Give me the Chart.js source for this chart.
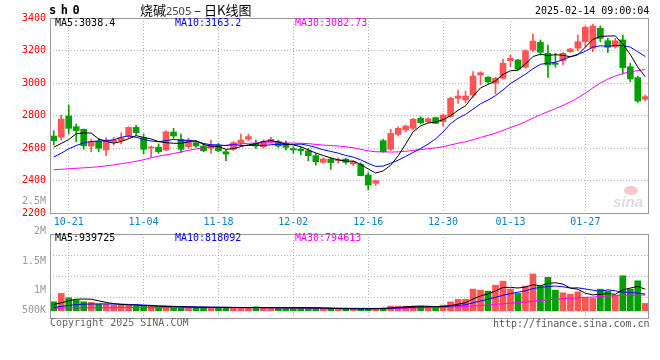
<!DOCTYPE html>
<html>
<head>
<meta charset="utf-8">
<script src="https://cdn.jsdelivr.net/npm/chart.js@4/dist/chart.umd.min.js"></script>
<style>
body { margin: 0; background: #fff; width: 660px; height: 360px; position: relative; overflow: hidden; }
canvas { position: absolute; left: 0; }
#price { top: 0; }
#vol { top: 195px; }
.t { position: absolute; white-space: pre; font: 10px/12px "DejaVu Sans Mono", monospace; }
</style>
</head>
<body>
<canvas id="price" width="660" height="230"></canvas>
<canvas id="vol" width="660" height="165"></canvas>

<div class="t" style="left:49px;top:4px;font-weight:bold;font-size:12px;letter-spacing:4.5px;">sh0</div>
<div class="t" style="left:140px;top:2px;font:13px/16px 'Noto Sans CJK SC';">烧碱<span style="font:11px 'Noto Sans';color:#444">2505</span> – 日K线图</div>
<div class="t" style="left:535px;top:5px;">2025-02-14 09:00:04</div>
<div class="t" id="pma5" style="left:55px;top:17px;color:#000"></div>
<div class="t" id="pma10" style="left:175px;top:17px;color:#00f"></div>
<div class="t" id="pma30" style="left:295px;top:17px;color:#f0f"></div>
<div class="t" id="vma5" style="left:55px;top:232px;color:#000"></div>
<div class="t" id="vma10" style="left:175px;top:232px;color:#00f"></div>
<div class="t" id="vma30" style="left:295px;top:232px;color:#f0f"></div>
<div class="t" style="left:50px;top:317px;color:#666">Copyright 2025 SINA.COM</div>
<div class="t" style="left:493px;top:318px;color:#555">http://finance.sina.com.cn</div>
<div style="position:absolute;left:624px;top:186px;width:14px;height:9px;border-radius:50%;background:#f3c9c9;"></div>
<div class="t" style="left:613px;top:194px;font:italic bold 15px/15px 'Liberation Sans';color:#dcdcdc;">sina</div>

<script>
// 日期 (80 根K线)
const dates = ['10-17','10-18','10-21','10-22','10-23','10-24','10-25','10-28','10-29','10-30',
  '10-31','11-01','11-04','11-05','11-06','11-07','11-08','11-11','11-12','11-13',
  '11-14','11-15','11-18','11-19','11-20','11-21','11-22','11-25','11-26','11-27',
  '11-28','11-29','12-02','12-03','12-04','12-05','12-06','12-09','12-10','12-11',
  '12-12','12-13','12-16','12-17','12-18','12-19','12-20','12-23','12-24','12-25',
  '12-26','12-27','12-30','12-31','01-02','01-03','01-06','01-07','01-08','01-09',
  '01-10','01-13','01-14','01-15','01-16','01-17','01-20','01-21','01-22','01-23',
  '01-24','01-27','02-05','02-06','02-07','02-10','02-11','02-12','02-13','02-14'];
const dateTicks = ['10-21','11-04','11-18','12-02','12-16','12-30','01-13','01-27'];

const open = [2674,2666,2797,2731,2715,2612,2643,2588,2639,2645,
  2674,2727,2663,2600,2604,2588,2698,2654,2608,2633,
  2612,2598,2618,2577,2592,2629,2654,2629,2608,2639,
  2639,2629,2596,2592,2583,2553,2512,2532,2522,2532,
  2502,2500,2434,2383,2645,2592,2684,2711,2721,2783,
  2762,2787,2762,2793,2906,2895,2926,3049,3035,2998,
  3029,3137,3142,3097,3203,3250,3183,3121,3137,3193,
  3214,3254,3214,3337,3260,3223,3265,3100,3033,2900];
const high = [2706,2803,2865,2748,2717,2654,2660,2663,2666,2694,
  2731,2740,2686,2612,2625,2705,2721,2686,2660,2639,
  2629,2649,2629,2588,2639,2686,2686,2649,2649,2666,
  2649,2643,2608,2604,2598,2567,2540,2540,2540,2537,
  2522,2510,2448,2403,2654,2715,2731,2741,2783,2793,
  2787,2790,2809,2912,2957,2951,3070,3070,3039,3035,
  3146,3172,3146,3205,3302,3265,3234,3183,3187,3214,
  3295,3351,3363,3351,3275,3275,3295,3121,3043,2926];
const low = [2618,2649,2686,2639,2592,2577,2577,2553,2618,2625,
  2660,2680,2563,2543,2567,2583,2660,2571,2598,2604,
  2577,2567,2577,2522,2583,2618,2645,2598,2602,2633,
  2604,2588,2567,2557,2522,2495,2506,2469,2506,2500,
  2491,2428,2342,2369,2574,2583,2674,2700,2715,2748,
  2756,2750,2735,2789,2875,2879,2912,2988,2998,2932,
  3023,3100,3080,3091,3193,3172,3035,3097,3111,3189,
  3199,3223,3193,3254,3187,3214,3055,3008,2881,2890];
const close = [2645,2777,2721,2707,2614,2639,2598,2649,2649,2663,
  2727,2694,2592,2604,2577,2700,2674,2592,2649,2612,
  2583,2618,2583,2563,2633,2649,2670,2612,2639,2654,
  2612,2604,2588,2583,2553,2516,2532,2510,2526,2512,
  2516,2430,2372,2399,2577,2690,2721,2735,2777,2756,
  2780,2752,2803,2906,2920,2920,3043,3063,3008,3029,
  3121,3152,3086,3199,3258,3189,3111,3115,3183,3209,
  3254,3343,3351,3275,3220,3260,3094,3025,2889,2916];

// 均线
const ma5 = [2605,2628,2652,2688,2693,2692,2656,2641,2630,2640,
  2657,2676,2665,2656,2639,2633,2629,2629,2638,2645,
  2622,2611,2609,2592,2596,2609,2620,2625,2641,2645,
  2637,2624,2619,2608,2588,2569,2554,2539,2527,2519,
  2519,2499,2471,2446,2459,2494,2552,2624,2700,2736,
  2754,2760,2774,2799,2832,2860,2918,2970,2991,3013,
  3053,3075,3079,3117,3163,3177,3169,3174,3171,3161,
  3174,3221,3268,3286,3289,3290,3240,3175,3098,3038.4];
const ma10 = [2545,2568,2595,2615,2632,2640,2643,2645,2650,2666,
  2674,2666,2653,2643,2639,2645,2653,2647,2647,2642,
  2628,2620,2619,2615,2621,2616,2615,2617,2616,2620,
  2623,2622,2622,2624,2616,2603,2589,2579,2568,2554,
  2544,2527,2505,2487,2489,2506,2525,2548,2573,2597,
  2624,2656,2699,2750,2784,2807,2839,2872,2895,2922,
  2957,2997,3025,3054,3088,3115,3122,3127,3144,3162,
  3176,3195,3221,3229,3225,3232,3230,3221,3192,3163.2];
const ma30 = [2466,2469,2472,2475,2478,2481,2485,2490,2496,2503,
  2510,2518,2528,2540,2550,2558,2566,2576,2586,2594,
  2601,2607,2612,2617,2622,2626,2629,2631,2632,2632,
  2631,2631,2630,2629,2627,2622,2618,2615,2612,2608,
  2601,2592,2582,2577,2576,2575,2576,2580,2585,2590,
  2596,2601,2608,2619,2629,2639,2651,2665,2678,2691,
  2708,2726,2742,2762,2784,2805,2823,2842,2862,2884,
  2908,2937,2970,3000,3024,3043,3058,3069,3076,3082.73];

// 成交量
const vol = [625000,835000,725000,667000,625000,610000,567000,567000,542000,542000,
  542000,517000,517000,525000,500000,500000,500000,500000,485000,485000,
  485000,485000,485000,485000,475000,475000,475000,500000,475000,475000,
  475000,475000,475000,475000,475000,475000,460000,450000,445000,450000,
  440000,450000,460000,455000,470000,517000,517000,517000,517000,517000,
  500000,475000,542000,625000,685000,685000,942000,917000,892000,1040000,
  1140000,942000,835000,1017000,1320000,1020000,1235000,917000,850000,817000,
  875000,735000,710000,942000,892000,792000,1275000,942000,1150000,585000];
const vma5 = [560000,600000,650000,690000,695000,690000,650000,610000,580000,560000,
  550000,540000,530000,525000,515000,510000,505000,500000,495000,490000,
  490000,487000,485000,485000,482000,480000,480000,480000,478000,478000,
  478000,475000,475000,475000,475000,472000,468000,462000,456000,451000,
  449000,447000,449000,451000,455000,470000,484000,497000,512000,517000,
  514000,505000,510000,532000,565000,602000,696000,771000,824000,895000,
  986000,986000,970000,995000,1051000,1027000,1085000,1102000,1068000,968000,
  939000,839000,797000,816000,831000,814000,922000,969000,1010000,939725];
const vma10 = [480000,510000,535000,555000,565000,570000,572000,572000,570000,565000,
  560000,555000,545000,535000,525000,518000,512000,508000,503000,498000,
  495000,492000,490000,488000,486000,484000,482000,482000,480000,480000,
  478000,478000,477000,476000,475000,473000,470000,467000,463000,460000,
  458000,455000,455000,456000,458000,463000,470000,477000,485000,492000,
  497000,500000,505000,518000,535000,552000,600000,645000,690000,735000,
  790000,830000,865000,900000,955000,985000,1005000,1020000,1000000,970000,
  975000,945000,915000,890000,925000,900000,865000,860000,845000,818092];
const vma30 = [470000,471000,472000,473000,474000,475000,476000,477000,478000,479000,
  480000,480000,480000,480000,480000,480000,480000,480000,480000,480000,
  480000,480000,480000,480000,479000,478000,477000,476000,475000,474000,
  473000,472000,471000,470000,469000,468000,467000,466000,465000,464000,
  463000,462000,461000,460000,460000,462000,465000,468000,471000,474000,
  478000,482000,487000,493000,500000,508000,520000,532000,545000,558000,
  575000,590000,604000,620000,640000,658000,675000,688000,700000,712000,
  724000,735000,745000,756000,768000,778000,787000,792000,795000,794613];
const volTickText = ['2.5M','2M','1.5M','1M','500K'];

const UP = '#ff5555';
const DOWN = '#00a000';
const candleColor = close.map((c, i) => c >= open[i] ? UP : DOWN);
const last = a => a[a.length - 1];

document.getElementById('pma5').textContent = 'MA5:' + last(ma5);
document.getElementById('pma10').textContent = 'MA10:' + last(ma10);
document.getElementById('pma30').textContent = 'MA30:' + last(ma30);
document.getElementById('vma5').textContent = 'MA5:' + last(vma5);
document.getElementById('vma10').textContent = 'MA10:' + last(vma10);
document.getElementById('vma30').textContent = 'MA30:' + last(vma30);

Chart.defaults.font.family = '"DejaVu Sans Mono", monospace';
Chart.defaults.font.size = 10;

const GRID = '#b4b4b4';
const keepDateTicks = s => { s.ticks = s.ticks.filter(t => dateTicks.includes(dates[t.value])); };

// 外框
const frame = {
  id: 'frame',
  afterDraw(chart) {
    const { ctx, chartArea: a } = chart;
    ctx.save();
    ctx.strokeStyle = '#999';
    ctx.lineWidth = 1;
    ctx.strokeRect(a.left + 0.5, a.top + 0.5, a.right - a.left - 1, a.bottom - a.top);
    ctx.restore();
  }
};

// 成交量刻度文字 (新浪图的位置并不按数值排)
const volLabelOffset = [-33, -3, 27, 56, 76];
const volLabels = {
  id: 'volLabels',
  afterDraw(chart) {
    const { ctx, chartArea: a } = chart;
    ctx.save();
    ctx.font = '10px "DejaVu Sans Mono"';
    ctx.fillStyle = '#999';
    ctx.textAlign = 'right';
    ctx.textBaseline = 'middle';
    volTickText.forEach((t, k) => ctx.fillText(t, a.left - 4, a.top + volLabelOffset[k]));
    ctx.restore();
  }
};

function maLine(data, color) {
  return { type: 'line', data: data, borderColor: color, borderWidth: 1, pointRadius: 0, order: 0 };
}

new Chart(document.getElementById('price'), {
  type: 'bar',
  data: {
    labels: dates,
    datasets: [
      maLine(ma5, '#000'),
      maLine(ma10, '#00f'),
      maLine(ma30, '#f0f'),
      {
        data: dates.map((d, i) => [Math.min(open[i], close[i]), Math.max(open[i], close[i])]),
        backgroundColor: candleColor, barThickness: 6, minBarLength: 1, grouped: false, order: 1
      },
      {
        data: dates.map((d, i) => [low[i], high[i]]),
        backgroundColor: candleColor, barThickness: 1, grouped: false, order: 2
      }
    ]
  },
  options: {
    responsive: false,
    animation: false,
    events: [],
    layout: { padding: { top: 18, right: 11, left: 0, bottom: 0 } },
    plugins: { legend: { display: false }, tooltip: { enabled: false } },
    scales: {
      x: {
        grid: { color: GRID, drawTicks: false, offset: false },
        border: { display: false, dash: [1, 2] },
        ticks: { autoSkip: false, maxRotation: 0, color: '#0a84c8', padding: 3 },
        afterBuildTicks: keepDateTicks,
        afterFit: s => { s.height = 17; }
      },
      y: {
        min: 2200, max: 3400,
        grid: { color: GRID, drawTicks: false },
        border: { display: false, dash: [1, 2] },
        ticks: { stepSize: 200, color: '#f00', padding: 4, callback: v => String(v) },
        afterFit: s => { s.width = 50; }
      }
    }
  },
  plugins: [frame]
});

new Chart(document.getElementById('vol'), {
  type: 'bar',
  data: {
    labels: dates,
    datasets: [
      maLine(vma5, '#000'),
      maLine(vma10, '#00f'),
      maLine(vma30, '#f0f'),
      { data: vol, base: 400000, backgroundColor: candleColor, barThickness: 6, order: 1 }
    ]
  },
  options: {
    responsive: false,
    animation: false,
    events: [],
    layout: { padding: { top: 39, right: 11, left: 0, bottom: 42 } },
    plugins: { legend: { display: false }, tooltip: { enabled: false } },
    scales: {
      x: {
        grid: { color: GRID, drawTicks: false, offset: false },
        border: { display: false, dash: [1, 2] },
        ticks: { display: false, autoSkip: false },
        afterBuildTicks: keepDateTicks,
        afterFit: s => { s.height = 0; }
      },
      y: {
        min: 220000, max: 2320000,
        grid: { color: GRID, drawTicks: false },
        border: { display: false, dash: [1, 2] },
        ticks: { display: false, count: 5 },
        afterFit: s => { s.width = 50; }
      }
    }
  },
  plugins: [frame, volLabels]
});
</script>
</body>
</html>
